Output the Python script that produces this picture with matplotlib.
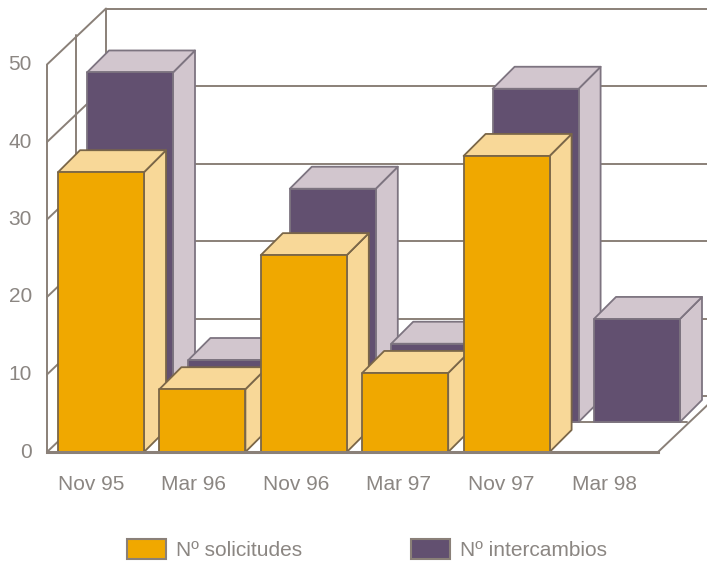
"""
Barras en 3D: solicitudes e intercambios por convocatoria.
"""
import matplotlib
matplotlib.use("Agg")
import matplotlib.pyplot as plt
from matplotlib.patches import Patch, Polygon

# Datos
categorias = ["Nov 95", "Mar 96", "Nov 96", "Mar 97", "Nov 97", "Mar 98"]
solicitudes = [36.1, 8.1, 25.4, 10.2, 38.2, None]
intercambios = [45.1, 8.0, 30.1, 10.1, 43.0, 13.3]
ticks_y = [0, 10, 20, 30, 40, 50]
nombres_series = ["Nº solicitudes", "Nº intercambios"]

# Escala: pixeles por unidad de cada eje
ANCHO, ALTO = 707, 563
PX_X = 101.4
PX_Y = 7.75
ORIGEN_X = 101  # centro de la primera barra
ORIGEN_Y = 452  # linea del cero


def dx(px):
    return px / PX_X


def dy(px):
    return px / PX_Y


MEDIA_BARRA = dx(43)
PROF_X, PROF_Y = dx(22), dy(22)          # fondo de cada barra
PLANO_X, PLANO_Y = dx(29), dy(30)        # plano de la serie trasera
PARED_X, PARED_Y = dx(59), dy(56)        # pared del fondo
IZQ = dx(47 - ORIGEN_X)                  # eje vertical delantero
DER = dx(658 - ORIGEN_X)                 # final del suelo

COLOR_LINEA = "#8a8078"
COLOR_TEXTO = "#8b8682"
NARANJA = ("#f0a800", "#f8d898", "#7a6648")
MORADO = ("#625070", "#d2c6ce", "#7d7480")

FUENTE = ["Liberation Sans", "DejaVu Sans"]
TAM_TEXTO = 15


def dibujar_barra(ax, x, valor, colores):
    """Dibuja una barra con cara frontal, lateral y superior."""
    frente, claro, borde = colores
    x0, x1 = x - MEDIA_BARRA, x + MEDIA_BARRA
    y0, y1 = valor[0], valor[1]
    estilo = {"edgecolor": borde, "linewidth": 1.3, "joinstyle": "round", "zorder": 2}
    ax.add_patch(Polygon([(x1, y0), (x1 + PROF_X, y0 + PROF_Y), (x1 + PROF_X, y1 + PROF_Y), (x1, y1)],
                         facecolor=claro, **estilo))
    ax.add_patch(Polygon([(x0, y1), (x1, y1), (x1 + PROF_X, y1 + PROF_Y), (x0 + PROF_X, y1 + PROF_Y)],
                         facecolor=claro, **estilo))
    ax.add_patch(Polygon([(x0, y0), (x1, y0), (x1, y1), (x0, y1)], facecolor=frente, **estilo))


def dibujar_marco(ax):
    """Paredes, suelo y lineas de la rejilla."""
    linea = {"color": COLOR_LINEA, "linewidth": 1.4, "solid_capstyle": "round", "zorder": 1}
    tope = ticks_y[-1]

    # lineas de la rejilla en la pared izquierda y la del fondo
    for t in ticks_y:
        ax.plot([IZQ, IZQ + PARED_X], [t, t + PARED_Y], **linea)
        ax.plot([IZQ + PARED_X, DER + PARED_X], [t + PARED_Y, t + PARED_Y], **linea)

    # verticales de la pared izquierda
    ax.plot([IZQ, IZQ], [0, tope], **linea)
    ax.plot([IZQ + PLANO_X, IZQ + PLANO_X], [PLANO_Y, tope + PLANO_Y], **linea)
    ax.plot([IZQ + PARED_X, IZQ + PARED_X], [PARED_Y, tope + PARED_Y], **linea)

    # suelo
    ax.plot([DER, DER + PARED_X], [0, PARED_Y], **linea)
    ax.plot([IZQ + PLANO_X, DER + PLANO_X], [PLANO_Y, PLANO_Y], **linea)
    ax.plot([IZQ, DER], [0, 0], color=COLOR_LINEA, linewidth=2.2, zorder=3)


def main():
    fig = plt.figure(figsize=(ANCHO / 100, ALTO / 100), dpi=100)
    ax = fig.add_axes([0, 0, 1, 1])
    ax.set_xlim(dx(-ORIGEN_X), dx(ANCHO - ORIGEN_X))
    ax.set_ylim(dy(ORIGEN_Y - ALTO), dy(ORIGEN_Y))
    ax.axis("off")

    dibujar_marco(ax)

    # primero la serie trasera, luego la delantera
    for i, valor in enumerate(intercambios):
        dibujar_barra(ax, i + PLANO_X, (PLANO_Y, valor + PLANO_Y), MORADO)
    for i, valor in enumerate(solicitudes):
        if valor is not None:
            dibujar_barra(ax, i, (0, valor), NARANJA)

    # etiquetas de los ejes
    for t in ticks_y:
        ax.text(dx(32 - ORIGEN_X), t, str(t), ha="right", va="center",
                fontsize=TAM_TEXTO, color=COLOR_TEXTO, family=FUENTE)
    for i, nombre in enumerate(categorias):
        ax.text(i * 1.012 + dx(-10), dy(-32), nombre, ha="center", va="center",
                fontsize=TAM_TEXTO, color=COLOR_TEXTO, family=FUENTE)

    manejadores = [
        Patch(facecolor=NARANJA[0], edgecolor=COLOR_LINEA, linewidth=1.5, label=nombres_series[0]),
        Patch(facecolor=MORADO[0], edgecolor=COLOR_LINEA, linewidth=1.5, label=nombres_series[1]),
    ]
    ax.legend(handles=manejadores, ncols=2, loc="lower left",
              bbox_to_anchor=(127 / ANCHO, 3 / ALTO), frameon=False, borderpad=0, borderaxespad=0,
              labelcolor=COLOR_TEXTO, handlelength=1.88, handleheight=1.05,
              handletextpad=0.48, columnspacing=5.2,
              prop={"family": FUENTE, "size": TAM_TEXTO})

    fig.savefig("out.png", dpi=100)


if __name__ == "__main__":
    main()
